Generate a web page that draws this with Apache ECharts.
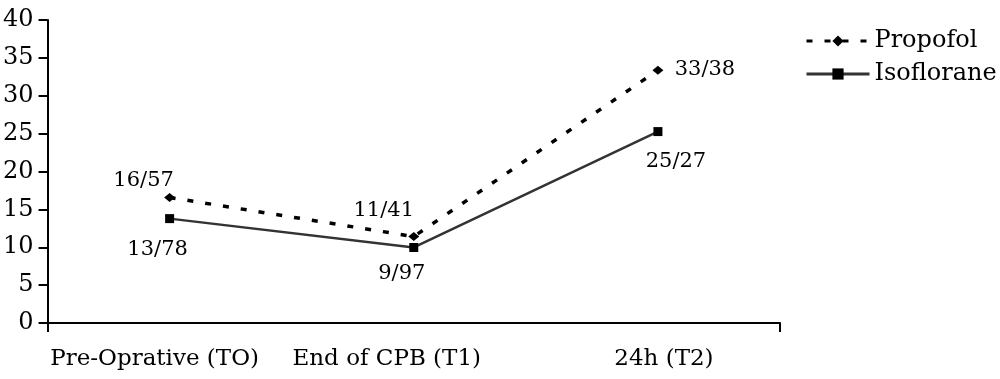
<!DOCTYPE html>
<html>
<head>
<meta charset="utf-8">
<script src="https://cdn.jsdelivr.net/npm/echarts@6/dist/echarts.min.js"></script>
<style>
html,body{margin:0;padding:0;background:#fff;}
#c{width:1000px;height:379px;}
</style>
</head>
<body>
<div id="c"></div>
<script>
const categories = ['Pre-Oprative (TO)', 'End of CPB (T1)', '24h (T2)'];
const propofol = [16.57, 11.41, 33.38];
const isoflorane = [13.78, 9.97, 25.27];
const yTicks = [0, 5, 10, 15, 20, 25, 30, 35, 40];

const FONT = 'DejaVu Serif';
const propLabelOffsets = [[-26, -17], [-30, -26], [47, -1]];
const isoLabelOffsets = [[-12, 31], [-12, 26], [18, 30]];

function buildData(vals, offs) {
  return vals.map((v, i) => ({ value: v, label: { offset: offs[i] } }));
}
const fmt = p => String(p.value).replace('.', '/');

const chart = echarts.init(document.getElementById('c'), null, { renderer: 'canvas' });
chart.setOption({
  animation: false,
  backgroundColor: '#fff',
  textStyle: { fontFamily: FONT },
  grid: { left: 46, right: 220, top: 20, bottom: 56, containLabel: false },
  legend: {
    orient: 'vertical',
    left: 805,
    top: 29,
    padding: 0,
    itemWidth: 63,
    itemHeight: 14,
    itemGap: 9,
    lineStyle: { width: 3 },
    textStyle: { fontFamily: FONT, fontSize: 24, color: '#000' },
    data: ['Propofol', 'Isoflorane']
  },
  xAxis: {
    type: 'category',
    data: categories,
    boundaryGap: true,
    axisLine: { lineStyle: { color: '#000', width: 2 } },
    axisTick: { show: true, length: 9, lineStyle: { color: '#000', width: 2 }, interval: (i) => i === 0 },
    axisLabel: {
      interval: 0,
      hideOverlap: false,
      margin: 25,
      color: '#000',
      fontFamily: FONT,
      fontSize: 23,
      formatter: (v, i) => '{a' + i + '|' + v + '}',
      rich: {
        a0: { fontFamily: FONT, fontSize: 23, color: '#000', padding: [0, 30, 0, 0] },
        a1: { fontFamily: FONT, fontSize: 23, color: '#000', padding: [0, 54, 0, 0] },
        a2: { fontFamily: FONT, fontSize: 23, color: '#000', padding: [0, 0, 0, 12] }
      }
    },
    splitLine: { show: false }
  },
  yAxis: {
    type: 'value',
    min: yTicks[0],
    max: yTicks[yTicks.length - 1],
    interval: 5,
    axisLine: { show: true, lineStyle: { color: '#000', width: 2 } },
    axisTick: { show: true, length: 9, lineStyle: { color: '#000', width: 2 } },
    axisLabel: { margin: 14, color: '#000', fontFamily: FONT, fontSize: 24 },
    splitLine: { show: false }
  },
  series: [
    {
      name: 'Propofol',
      type: 'line',
      data: buildData(propofol, propLabelOffsets),
      symbol: 'diamond',
      symbolSize: [11, 9],
      itemStyle: { color: '#000' },
      lineStyle: { color: '#000', width: 3.5, type: [6, 12] },
      label: { show: true, position: 'inside', formatter: fmt, fontFamily: FONT, fontSize: 21, color: '#000' },
      z: 3
    },
    {
      name: 'Isoflorane',
      type: 'line',
      data: buildData(isoflorane, isoLabelOffsets),
      symbol: 'rect',
      symbolSize: 9,
      itemStyle: { color: '#000' },
      lineStyle: { color: '#333', width: 2.5, type: 'solid' },
      label: { show: true, position: 'inside', formatter: fmt, fontFamily: FONT, fontSize: 21, color: '#000' },
      z: 2
    }
  ]
});
</script>
</body>
</html>
